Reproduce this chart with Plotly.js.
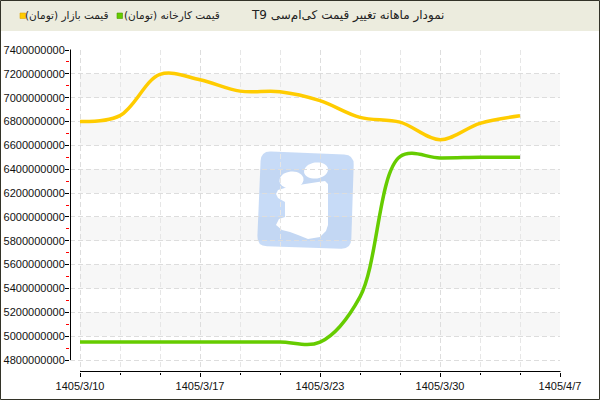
<!DOCTYPE html>
<html>
<head>
<meta charset="utf-8">
<script src="https://cdn.plot.ly/plotly-3.0.1.min.js"></script>
<style>html,body{margin:0;padding:0;background:#fff;}#chart{width:600px;height:400px;}</style>
</head>
<body>
<div id="chart"></div>
<script>
// ---- data ----
const pointIndex = [0, 1, 2, 3, 4, 5, 6, 7, 8, 9, 10, 11];
const marketPrice = [6800e6, 6850e6, 7195e6, 7150e6, 7055e6, 7050e6, 6975e6, 6835e6, 6795e6, 6648e6, 6785e6, 6848e6];
const factoryPrice = [4950e6, 4950e6, 4950e6, 4950e6, 4950e6, 4950e6, 4950e6, 5330e6, 6505e6, 6495e6, 6500e6, 6500e6];
const dateTickPos = [0, 3, 6, 9, 12];
const dateTickLabels = ['1405/3/10', '1405/3/17', '1405/3/23', '1405/3/30', '1405/4/7'];
const titleText = 'نمودار ماهانه تغییر قیمت کی‌ام‌سی T9';
const marketName = 'قیمت بازار (تومان)';
const factoryName = 'قیمت کارخانه (تومان)';

// ---- pixel -> paper helpers (plot area: x 70..560, y 50..372) ----
const X = px => (px - 70) / 490;
const Y = py => (372 - py) / 322;
const P = (px, py) => X(px).toFixed(5) + ',' + Y(py).toFixed(5);
const rtl = s => '\u202B' + s + '\u202C';

function polyPath(pts) {
  return 'M' + pts.map(p => P(p[0], p[1])).join('L') + 'Z';
}
function roundedPoly(pts, r) {
  const n = pts.length; let d = '';
  for (let i = 0; i < n; i++) {
    const c = pts[i], pr = pts[(i + n - 1) % n], nx = pts[(i + 1) % n];
    const toward = (a, b) => { const dx = b[0] - a[0], dy = b[1] - a[1], L = Math.hypot(dx, dy); return [a[0] + dx / L * r, a[1] + dy / L * r]; };
    const a = toward(c, pr), b = toward(c, nx);
    d += (i === 0 ? 'M' : 'L') + P(a[0], a[1]) + 'Q' + P(c[0], c[1]) + ' ' + P(b[0], b[1]);
  }
  return d + 'Z';
}
function ellipsePath(cx, cy, rx, ry, rot) {
  const pts = [];
  for (let i = 0; i < 36; i++) {
    const t = i / 36 * 2 * Math.PI, ca = Math.cos(rot), sa = Math.sin(rot);
    const ex = rx * Math.cos(t), ey = ry * Math.sin(t);
    pts.push([cx + ex * ca - ey * sa, cy + ex * sa + ey * ca]);
  }
  return polyPath(pts);
}

const shapes = [];
// header
shapes.push({type: 'rect', xref: 'paper', yref: 'paper', x0: X(0), x1: X(600), y0: Y(31), y1: Y(0), fillcolor: '#ececde', line: {width: 0}, layer: 'below'});
// alternating bands
for (let v = 5000e6; v < 7400e6; v += 400e6) {
  shapes.push({type: 'rect', xref: 'paper', yref: 'y', x0: X(80), x1: 1, y0: v, y1: v + 200e6, fillcolor: '#f7f7f7', line: {width: 0}, layer: 'below'});
}
// watermark logo
shapes.push({type: 'path', xref: 'paper', yref: 'paper', path: roundedPoly([[261, 151], [354, 155], [351, 249], [257, 246]], 10), fillcolor: '#8fb8f0', opacity: 0.5, line: {width: 0}, layer: 'below'});
shapes.push({type: 'path', xref: 'paper', yref: 'paper', path: ellipsePath(316, 170.5, 12, 8, -0.15), fillcolor: '#ffffff', line: {width: 0}, layer: 'below'});
shapes.push({type: 'path', xref: 'paper', yref: 'paper', path: ellipsePath(291.5, 180, 12, 8.5, -0.1), fillcolor: '#ffffff', line: {width: 0}, layer: 'below'});
shapes.push({type: 'path', xref: 'paper', yref: 'paper', path: polyPath([[278, 190], [288, 187], [305, 184], [318, 182], [325, 181], [328, 184], [328, 225], [326, 231], [320, 237], [308, 239], [298, 235], [290, 232], [282, 230], [276, 225], [279, 219], [285, 217], [285, 202], [278, 198], [276, 194]]), fillcolor: '#ffffff', line: {width: 0}, layer: 'below'});
// hide grid stubs left of x=80
shapes.push({type: 'rect', xref: 'paper', yref: 'paper', x0: X(70.6), x1: X(79.5), y0: 0, y1: 1, fillcolor: '#ffffff', line: {width: 0}, layer: 'between'});
// axis lines
shapes.push({type: 'line', xref: 'paper', yref: 'paper', x0: X(70.5), x1: X(70.5), y0: Y(360), y1: Y(49.5), line: {color: '#000', width: 1}, layer: 'above'});
shapes.push({type: 'line', xref: 'paper', yref: 'paper', x0: X(80), x1: X(560.5), y0: Y(371.5), y1: Y(371.5), line: {color: '#000', width: 1}, layer: 'above'});
// legend squares
shapes.push({type: 'rect', xref: 'paper', yref: 'paper', x0: X(20), x1: X(25.5), y0: Y(18.5), y1: Y(13), fillcolor: '#ffcc00', line: {color: '#e0a800', width: 0.6}, layer: 'above'});
shapes.push({type: 'rect', xref: 'paper', yref: 'paper', x0: X(117), x1: X(122.5), y0: Y(18.5), y1: Y(13), fillcolor: '#66cc00', line: {color: '#4a9a00', width: 0.6}, layer: 'above'});
// outer border
shapes.push({type: 'rect', xref: 'paper', yref: 'paper', x0: X(0.5), x1: X(599.5), y0: Y(399.5), y1: Y(0.5), line: {color: '#333328', width: 1}, layer: 'above'});

const arFont = {family: 'DejaVu Sans', size: 12, color: '#222'};
const legFont = {family: 'DejaVu Sans', size: 10.5, color: '#222'};
const annotations = [
  {xref: 'paper', yref: 'paper', x: X(446), y: Y(16), xanchor: 'right', yanchor: 'middle', showarrow: false, text: rtl(titleText), font: arFont},
  {xref: 'paper', yref: 'paper', x: X(111), y: Y(16), xanchor: 'right', yanchor: 'middle', showarrow: false, text: rtl(marketName), font: legFont},
  {xref: 'paper', yref: 'paper', x: X(222), y: Y(16), xanchor: 'right', yanchor: 'middle', showarrow: false, text: rtl(factoryName), font: legFont}
];

const yMinorTicks = [];
for (let v = 4900e6; v < 7400e6; v += 200e6) yMinorTicks.push(v);
const xMinorTicks = pointIndex.filter(i => dateTickPos.indexOf(i) < 0);

const traces = [
  {x: pointIndex, y: factoryPrice, name: factoryName, type: 'scatter', mode: 'lines', line: {color: '#66cc00', width: 3.5, shape: 'spline', smoothing: 1}, showlegend: false, hoverinfo: 'skip'},
  {x: pointIndex, y: marketPrice, name: marketName, type: 'scatter', mode: 'lines', line: {color: '#ffcc00', width: 3.5, shape: 'spline', smoothing: 1}, showlegend: false, hoverinfo: 'skip'}
];

const tickFont = {family: 'Liberation Sans', size: 11, color: '#111'};
const layout = {
  width: 600, height: 400,
  margin: {l: 70, r: 40, t: 50, b: 28, pad: 0},
  paper_bgcolor: '#ffffff', plot_bgcolor: 'rgba(0,0,0,0)',
  showlegend: false,
  xaxis: {
    range: [-0.25, 12], tickmode: 'array', tickvals: dateTickPos, ticktext: dateTickLabels,
    ticks: 'outside', ticklen: 4, tickcolor: '#000', tickwidth: 1, tickfont: tickFont,
    showline: false, zeroline: false, showgrid: true, gridcolor: '#dddddd', griddash: '5px,3px', gridwidth: 1,
    minor: {tickmode: 'array', tickvals: xMinorTicks, ticks: 'outside', ticklen: 2, tickcolor: '#000', showgrid: true, gridcolor: '#e6e6e6', griddash: '5px,3px', gridwidth: 1},
    fixedrange: true
  },
  yaxis: {
    range: [4699.4e6, 7400e6], tick0: 4800e6, dtick: 200e6, tickformat: 'd',
    ticks: 'outside', ticklen: 4, tickcolor: '#000', tickwidth: 1, tickfont: tickFont, ticklabelstandoff: -2,
    showline: false, zeroline: false, showgrid: true, gridcolor: '#dddddd', griddash: '5px,3px', gridwidth: 1,
    minor: {tickmode: 'array', tickvals: yMinorTicks, ticks: 'outside', ticklen: 3, tickcolor: '#ff0000', showgrid: false},
    fixedrange: true
  },
  shapes: shapes,
  annotations: annotations
};

Plotly.newPlot('chart', traces, layout, {displayModeBar: false, staticPlot: true});
</script>
</body>
</html>
